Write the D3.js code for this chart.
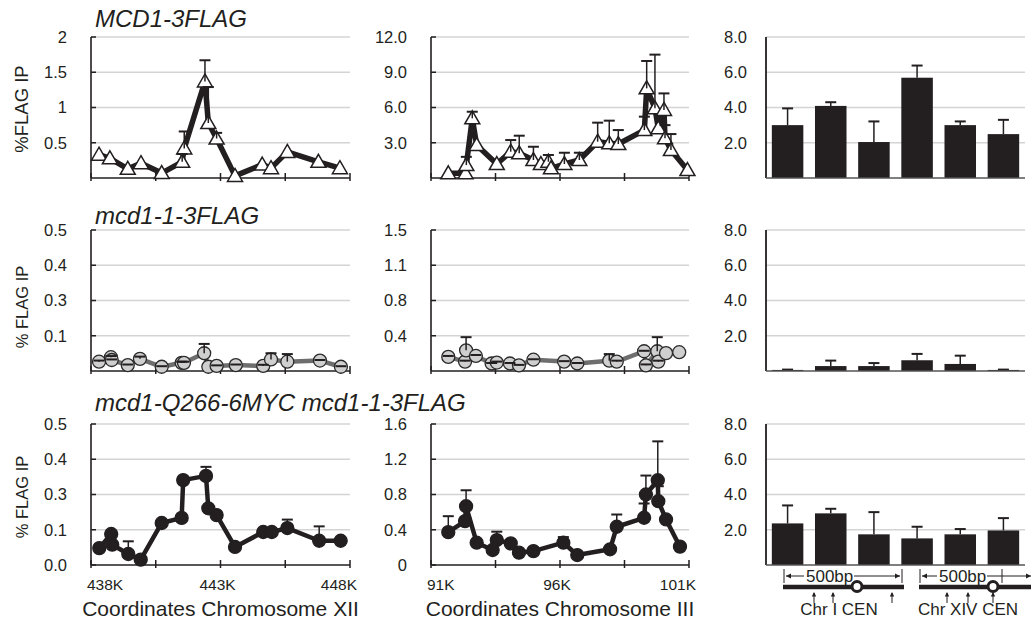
<!DOCTYPE html>
<html>
<head>
<meta charset="utf-8">
<script src="https://cdn.jsdelivr.net/npm/d3@7"></script>
<style>
  body { margin: 0; background: #fff; }
  svg text { font-family: "Liberation Sans", Arial, Helvetica, sans-serif; fill: #231f20; }
</style>
</head>
<body>
<svg id="chart" width="1031" height="621"></svg>
<script>
// ======================================
// Data
// ======================================

// x axis ranges (kb) and tick labels
var xiiDomain = [438, 448];
var iiiDomain = [91, 101];
var xiiTickLabels = ["438K", "443K", "448K"];
var iiiTickLabels = ["91K", "96K", "101K"];

// MCD1-3FLAG, chromosome XII
var wtXiiPos = [438.31, 438.73, 439.42, 439.93, 440.73, 441.52, 441.60, 442.40, 442.53, 442.85, 443.56, 444.61, 444.95, 445.58, 446.78, 447.61];
var wtXiiVal = [0.33, 0.28, 0.13, 0.21, 0.07, 0.23, 0.42, 1.37, 0.78, 0.56, 0.03, 0.19, 0.14, 0.37, 0.23, 0.14];
var wtXiiErr = [0, 0, 0, 0, 0, 0.11, 0.24, 0.30, 0.51, 0.08, 0, 0, 0, 0, 0, 0];

// MCD1-3FLAG, chromosome III
var wtIiiPos = [91.67, 92.34, 92.37, 92.60, 92.77, 93.55, 94.09, 94.42, 94.97, 95.26, 95.55, 95.65, 96.17, 96.75, 97.46, 97.91, 98.26, 99.27, 99.36, 99.68, 99.81, 100.03, 100.07, 100.30, 100.94];
var wtIiiVal = [0.4, 0.4, 1.1, 5.08, 2.8, 1.19, 2.24, 2.1, 1.53, 1.19, 1.39, 0.82, 1.19, 1.53, 3.09, 2.95, 2.89, 4.08, 7.63, 5.93, 4.23, 5.79, 3.38, 2.38, 0.68];
var wtIiiErr = [0, 0, 0.7, 0.56, 0, 0, 0.99, 1.5, 1.13, 0, 0.57, 0, 0.96, 0.62, 1.62, 1.93, 1.19, 1.14, 2.33, 4.57, 0, 1.41, 1.12, 1.36, 0];

// mcd1-1-3FLAG, chromosome XII
var mutXiiPos = [438.31, 438.77, 438.80, 439.42, 439.89, 440.73, 441.50, 441.59, 442.37, 442.53, 442.85, 443.59, 444.65, 444.95, 445.58, 446.84, 447.65];
var mutXiiVal = [0.033, 0.049, 0.039, 0.021, 0.043, 0.015, 0.029, 0.029, 0.063, 0.015, 0.018, 0.021, 0.018, 0.041, 0.033, 0.037, 0.015];
var mutXiiErr = [0.004, 0.004, 0.002, 0.002, 0.008, 0.002, 0.004, 0.004, 0.033, 0, 0.002, 0.002, 0.004, 0.022, 0.027, 0.002, 0.002];

// mcd1-1-3FLAG, chromosome III
var mutIiiPos = [91.67, 92.32, 92.36, 92.74, 93.35, 93.55, 94.06, 94.41, 94.97, 96.16, 96.67, 97.91, 98.20, 99.26, 99.33, 99.77, 99.81, 100.11, 100.62];
var mutIiiVal = [0.15, 0.10, 0.22, 0.16, 0.08, 0.09, 0.08, 0.06, 0.12, 0.10, 0.08, 0.11, 0.10, 0.21, 0.06, 0.21, 0.10, 0.19, 0.20];
var mutIiiErr = [0.01, 0.01, 0.14, 0.01, 0.005, 0.01, 0.005, 0.005, 0.005, 0.005, 0.005, 0.07, 0.01, 0.005, 0.01, 0.15, 0.01, 0, 0];

// mcd1-Q266-6MYC mcd1-1-3FLAG, chromosome XII
var supXiiPos = [438.32, 438.78, 438.82, 439.44, 439.92, 440.73, 441.50, 441.56, 442.44, 442.53, 442.85, 443.56, 444.65, 444.98, 445.58, 446.81, 447.64];
var supXiiVal = [0.060, 0.110, 0.072, 0.039, 0.019, 0.149, 0.167, 0.301, 0.316, 0.201, 0.177, 0.064, 0.117, 0.117, 0.131, 0.086, 0.086];
var supXiiErr = [0, 0, 0, 0.045, 0, 0, 0, 0, 0.032, 0, 0, 0, 0, 0, 0.03, 0.051, 0];

// mcd1-Q266-6MYC mcd1-1-3FLAG, chromosome III
var supIiiPos = [91.67, 92.32, 92.36, 92.77, 93.39, 93.55, 94.09, 94.41, 94.97, 96.13, 96.67, 97.94, 98.20, 99.26, 99.33, 99.79, 99.81, 100.11, 100.65];
var supIiiVal = [0.373, 0.498, 0.667, 0.253, 0.170, 0.283, 0.245, 0.140, 0.158, 0.253, 0.113, 0.178, 0.434, 0.536, 0.80, 0.962, 0.724, 0.517, 0.208];
var supIiiErr = [0.181, 0, 0.181, 0, 0, 0.095, 0, 0, 0, 0.064, 0, 0, 0.139, 0.162, 0.215, 0.441, 0.17, 0, 0];

// centromere sites (bar charts)
var cenSites = ["I-a", "I-b", "I-c", "XIV-a", "XIV-b", "XIV-c"];
var wtCenVal = [3.0, 4.09, 2.04, 5.69, 3.0, 2.49];
var wtCenErr = [0.95, 0.21, 1.17, 0.69, 0.21, 0.81];
var mutCenVal = [0.06, 0.28, 0.28, 0.61, 0.40, 0.06];
var mutCenErr = [0.02, 0.31, 0.17, 0.36, 0.47, 0.02];
var supCenVal = [2.36, 2.93, 1.74, 1.51, 1.74, 1.96];
var supCenErr = [1.02, 0.26, 1.26, 0.66, 0.30, 0.70];

// y ticks (positions on the scale) and the labels printed there
var wtXiiTicks = [0.5, 1, 1.5, 2];
var wtXiiLabels = ["0.5", "1", "1.5", "2"];
var wtIiiTicks = [3, 6, 9, 12];
var wtIiiLabels = ["3.0", "6.0", "9.0", "12.0"];
var mutXiiTicks = [0.125, 0.25, 0.375, 0.5];
var mutXiiLabels = ["0.1", "0.3", "0.4", "0.5"];
var mutIiiTicks = [0.375, 0.75, 1.125, 1.5];
var mutIiiLabels = ["0.4", "0.8", "1.1", "1.5"];
var supXiiTicks = [0, 0.125, 0.25, 0.375, 0.5];
var supXiiLabels = ["0.0", "0.1", "0.3", "0.4", "0.5"];
var supIiiTicks = [0, 0.4, 0.8, 1.2, 1.6];
var supIiiLabels = ["0", "0.4", "0.8", "1.2", "1.6"];
var cenTicks = [2, 4, 6, 8];
var cenLabels = ["2.0", "4.0", "6.0", "8.0"];

// ======================================
// Layout
// ======================================
var cols = [{x0: 91, x1: 350}, {x0: 431, x1: 689}, {x0: 766, x1: 1025}];
var rows = [{y0: 37, y1: 178}, {y0: 230, y1: 371}, {y0: 424, y1: 565}];
var ink = "#231f20";
var gridColor = "#d4d4d4";

var svg = d3.select("#chart");

function trianglePath(d) {
  return "M0,-7.5L7.5,5.5L-7.5,5.5Z";
}

function yAxisAndGrid(g, y, col, ticks, labels, labelGap, withTicks) {
  g.selectAll(".grid")
    .data(ticks.filter(t => t > 0))
    .enter().append("line")
    .attr("x1", col.x0).attr("x2", col.x1)
    .attr("y1", d => y(d)).attr("y2", d => y(d))
    .attr("stroke", gridColor).attr("stroke-width", 1.3);

  g.selectAll(".ylab")
    .data(ticks)
    .enter().append("text")
    .attr("x", col.x0 - labelGap)
    .attr("y", d => y(d))
    .attr("dy", "0.36em")
    .attr("text-anchor", "end")
    .style("font-size", "16.5px")
    .text((d, i) => labels[i]);

  if (withTicks) {
    g.selectAll(".ytick")
      .data(ticks)
      .enter().append("line")
      .attr("x1", col.x0).attr("x2", col.x0 + 5)
      .attr("y1", d => y(d)).attr("y2", d => y(d))
      .attr("stroke", ink).attr("stroke-width", 1.5);
  }
}

function errorBars(g, xf, yf, data) {
  var eb = g.selectAll(".err")
    .data(data.filter(d => d.err > 0))
    .enter().append("g");
  eb.append("line")
    .attr("x1", d => xf(d)).attr("x2", d => xf(d))
    .attr("y1", d => yf(d.val)).attr("y2", d => yf(d.val + d.err))
    .attr("stroke", ink).attr("stroke-width", 1.5);
  eb.append("line")
    .attr("x1", d => xf(d) - 5.5).attr("x2", d => xf(d) + 5.5)
    .attr("y1", d => yf(d.val + d.err)).attr("y2", d => yf(d.val + d.err))
    .attr("stroke", ink).attr("stroke-width", 2);
}

function linePanel(r, c, opt) {
  var col = cols[c], row = rows[r];
  var x = d3.scaleLinear().domain(opt.xDomain).range([col.x0, col.x1]);
  var y = d3.scaleLinear().domain([0, opt.yMax]).range([row.y1, row.y0]);
  var g = svg.append("g");

  yAxisAndGrid(g, y, col, opt.ticks, opt.labels, 24, true);

  // axes
  g.append("line")
    .attr("x1", col.x0).attr("x2", col.x0)
    .attr("y1", row.y0).attr("y2", row.y1)
    .attr("stroke", ink).attr("stroke-width", 1.6);
  g.append("line")
    .attr("x1", col.x0).attr("x2", col.x1)
    .attr("y1", row.y1).attr("y2", row.y1)
    .attr("stroke", ink).attr("stroke-width", 1.6);
  var xt = d3.range(opt.xDomain[0], opt.xDomain[1] + 0.01, 2.5);
  g.selectAll(".xtick")
    .data(xt)
    .enter().append("line")
    .attr("x1", d => x(d)).attr("x2", d => x(d))
    .attr("y1", row.y1 - 5).attr("y2", row.y1 + 3)
    .attr("stroke", ink).attr("stroke-width", 1.5);

  if (opt.xLabels) {
    var lv = [opt.xDomain[0], (opt.xDomain[0] + opt.xDomain[1]) / 2, opt.xDomain[1]];
    var anchors = ["start", "middle", "end"];
    var shifts = [-4, -3, 7];
    g.selectAll(".xlab")
      .data(lv)
      .enter().append("text")
      .attr("x", (d, i) => x(d) + shifts[i])
      .attr("y", row.y1 + 25)
      .attr("text-anchor", (d, i) => anchors[i])
      .style("font-size", "15.5px")
      .text((d, i) => opt.xLabels[i]);
    g.append("text")
      .attr("x", (col.x0 + col.x1) / 2)
      .attr("y", row.y1 + 51)
      .attr("text-anchor", "middle")
      .style("font-size", "21px")
      .text(opt.xTitle);
  }

  var data = opt.pos.map((p, i) => ({pos: p, val: opt.val[i], err: opt.err[i]}));
  var line = d3.line().x(d => x(d.pos)).y(d => y(d.val));

  g.append("path")
    .datum(data)
    .attr("d", line)
    .attr("fill", "none")
    .attr("stroke", opt.lineColor)
    .attr("stroke-width", opt.lineWidth)
    .attr("stroke-linejoin", "round");

  if (opt.marker === "triangle") {
    g.selectAll(".mk")
      .data(data)
      .enter().append("path")
      .attr("transform", d => `translate(${x(d.pos)},${y(d.val)})`)
      .attr("d", trianglePath)
      .attr("fill", "#fff")
      .attr("stroke", ink)
      .attr("stroke-width", 1.5)
      .attr("stroke-linejoin", "miter");
  } else {
    g.selectAll(".mk")
      .data(data)
      .enter().append("circle")
      .attr("cx", d => x(d.pos))
      .attr("cy", d => y(d.val))
      .attr("r", opt.radius)
      .attr("fill", opt.fill)
      .attr("stroke", opt.stroke)
      .attr("stroke-width", 1.3);
  }

  errorBars(g, d => x(d.pos), y, data);
}

function barPanel(r, vals, errs) {
  var col = cols[2], row = rows[r];
  var x = d3.scaleBand().domain(cenSites).range([col.x0, col.x1])
    .paddingInner(0.27).paddingOuter(0.135);
  var y = d3.scaleLinear().domain([0, 8]).range([row.y1, row.y0]);
  var g = svg.append("g");

  yAxisAndGrid(g, y, col, cenTicks, cenLabels, 19, false);

  var data = cenSites.map((s, i) => ({site: s, val: vals[i], err: errs[i]}));

  g.selectAll(".bar")
    .data(data)
    .enter().append("rect")
    .attr("x", d => x(d.site))
    .attr("width", x.bandwidth())
    .attr("y", d => y(d.val))
    .attr("height", d => y(0) - y(d.val))
    .attr("fill", ink);

  errorBars(g, d => x(d.site) + x.bandwidth() / 2, y, data);

  g.append("line")
    .attr("x1", col.x0).attr("x2", col.x0)
    .attr("y1", row.y0).attr("y2", row.y1)
    .attr("stroke", ink).attr("stroke-width", 1.8);
  g.append("line")
    .attr("x1", col.x0).attr("x2", col.x1)
    .attr("y1", row.y1).attr("y2", row.y1)
    .attr("stroke", "#555").attr("stroke-width", 1.6);
}

// ======================================
// Panels
// ======================================
var wtStyle = {marker: "triangle", lineColor: ink, lineWidth: 5.5};
var mutStyle = {marker: "circle", lineColor: "#6e6e6e", lineWidth: 4.5, radius: 6.5, fill: "#cfcfcf", stroke: "#2a2a2a"};
var supStyle = {marker: "circle", lineColor: ink, lineWidth: 4.5, radius: 6.5, fill: ink, stroke: ink};

linePanel(0, 0, Object.assign({xDomain: xiiDomain, yMax: 2, ticks: wtXiiTicks, labels: wtXiiLabels,
  pos: wtXiiPos, val: wtXiiVal, err: wtXiiErr}, wtStyle));
linePanel(0, 1, Object.assign({xDomain: iiiDomain, yMax: 12, ticks: wtIiiTicks, labels: wtIiiLabels,
  pos: wtIiiPos, val: wtIiiVal, err: wtIiiErr}, wtStyle));
barPanel(0, wtCenVal, wtCenErr);

linePanel(1, 0, Object.assign({xDomain: xiiDomain, yMax: 0.5, ticks: mutXiiTicks, labels: mutXiiLabels,
  pos: mutXiiPos, val: mutXiiVal, err: mutXiiErr}, mutStyle));
linePanel(1, 1, Object.assign({xDomain: iiiDomain, yMax: 1.5, ticks: mutIiiTicks, labels: mutIiiLabels,
  pos: mutIiiPos, val: mutIiiVal, err: mutIiiErr}, mutStyle));
barPanel(1, mutCenVal, mutCenErr);

linePanel(2, 0, Object.assign({xDomain: xiiDomain, yMax: 0.5, ticks: supXiiTicks, labels: supXiiLabels,
  pos: supXiiPos, val: supXiiVal, err: supXiiErr, xLabels: xiiTickLabels,
  xTitle: "Coordinates Chromosome XII"}, supStyle));
linePanel(2, 1, Object.assign({xDomain: iiiDomain, yMax: 1.6, ticks: supIiiTicks, labels: supIiiLabels,
  pos: supIiiPos, val: supIiiVal, err: supIiiErr, xLabels: iiiTickLabels,
  xTitle: "Coordinates Chromosome III"}, supStyle));
barPanel(2, supCenVal, supCenErr);

// ======================================
// Titles and y labels
// ======================================
var titles = [
  {text: "MCD1-3FLAG", y: 27},
  {text: "mcd1-1-3FLAG", y: 224},
  {text: "mcd1-Q266-6MYC mcd1-1-3FLAG", y: 411}
];
svg.selectAll(".title")
  .data(titles)
  .enter().append("text")
  .attr("x", 95)
  .attr("y", d => d.y)
  .style("font-size", "24px")
  .style("font-style", "italic")
  .text(d => d.text);

var yTitles = [
  {text: "%FLAG IP", cy: 109, size: 18.5},
  {text: "% FLAG IP", cy: 307, size: 16.5},
  {text: "% FLAG IP", cy: 497, size: 16.5}
];
svg.selectAll(".ytitle")
  .data(yTitles)
  .enter().append("text")
  .attr("transform", d => `translate(28,${d.cy}) rotate(-90)`)
  .attr("text-anchor", "middle")
  .style("font-size", d => d.size + "px")
  .text(d => d.text);

// ======================================
// Centromere schematic under the bar chart
// ======================================
function schematic(s) {
  var g = svg.append("g");
  // 500bp dimension line
  g.append("line").attr("x1", s.dimL).attr("x2", s.dimL).attr("y1", 569).attr("y2", 583)
    .attr("stroke", ink).attr("stroke-width", 1);
  g.append("line").attr("x1", s.dimR).attr("x2", s.dimR).attr("y1", 569).attr("y2", 583)
    .attr("stroke", ink).attr("stroke-width", 1);
  g.append("line").attr("x1", s.dimL + 2).attr("x2", s.textL - 2).attr("y1", 576).attr("y2", 576)
    .attr("stroke", ink).attr("stroke-width", 1);
  g.append("path").attr("d", `M${s.dimL + 2},576l5,-2.5v5z`).attr("fill", ink);
  g.append("line").attr("x1", s.textL + 48).attr("x2", s.arrowEnd).attr("y1", 576).attr("y2", 576)
    .attr("stroke", ink).attr("stroke-width", 1);
  g.append("path").attr("d", `M${s.arrowEnd},576l-5,-2.5v5z`).attr("fill", ink);
  g.append("text").attr("x", s.textL).attr("y", 581.5).style("font-size", "17px").text("500bp");
  // chromosome bar
  g.append("line").attr("x1", s.barL).attr("x2", s.barR).attr("y1", 587).attr("y2", 587)
    .attr("stroke", ink).attr("stroke-width", 4.5);
  // primer arrows
  s.arrows.forEach(function(ax) {
    g.append("line").attr("x1", ax).attr("x2", ax).attr("y1", 603).attr("y2", 593)
      .attr("stroke", ink).attr("stroke-width", 1);
    g.append("path").attr("d", `M${ax},592l-2.2,4.5h4.4z`).attr("fill", ink);
  });
  // centromere
  g.append("circle").attr("cx", s.cen).attr("cy", 586.5).attr("r", 5)
    .attr("fill", "#fff").attr("stroke", ink).attr("stroke-width", 3);
  g.append("text").attr("x", s.labelX).attr("y", 615).attr("text-anchor", "middle")
    .style("font-size", "17px").text(s.label);
}
schematic({dimL: 784, dimR: 902, textL: 806, arrowEnd: 900, barL: 783, barR: 904,
  arrows: [814, 833, 892], cen: 857, labelX: 839, label: "Chr I CEN"});
schematic({dimL: 920, dimR: 1002, textL: 939, arrowEnd: 1031, barL: 919, barR: 1031,
  arrows: [947, 968, 993], cen: 993, labelX: 968, label: "Chr XIV CEN"});
</script>
</body>
</html>
